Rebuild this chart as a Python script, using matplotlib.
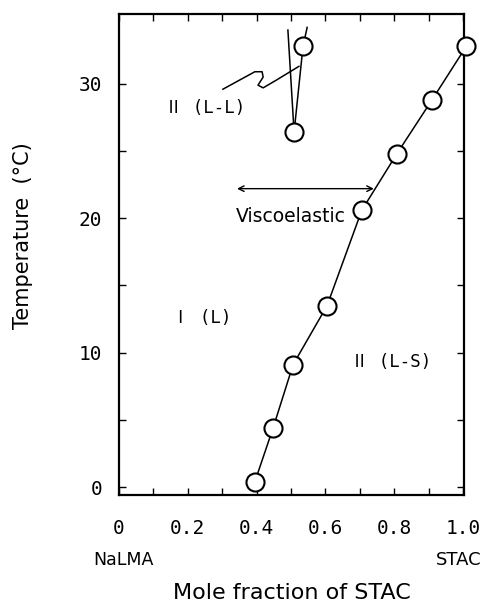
import matplotlib
matplotlib.use('Agg')
import matplotlib.pyplot as plt
import numpy as np

# phase boundary (L / L-S)
stac_x = [0.395, 0.448, 0.506, 0.605, 0.706, 0.808, 0.910, 1.010]
stac_T = [0.4, 4.4, 9.1, 13.5, 20.6, 24.8, 28.8, 32.8]

# L-L region points and its two boundaries
ll_x = [0.509, 0.535]
ll_T = [26.4, 32.8]
ll_left_x = [0.491, 0.509]
ll_left_T = [34.0, 26.4]
ll_right_x = [0.547, 0.535, 0.509]
ll_right_T = [34.2, 32.8, 26.4]

# hand-drawn pointer from the L-L label
squig_x = [0.302, 0.352, 0.395, 0.416, 0.419, 0.404, 0.419, 0.459, 0.523]
squig_T = [29.6, 30.3, 30.9, 30.9, 30.5, 29.9, 29.7, 30.3, 31.3]

visco_x = [0.343, 0.741]
visco_T = 22.2

xticks = [0, 0.2, 0.4, 0.6, 0.8, 1.0]
xticklabels = ['0', '0.2', '0.4', '0.6', '0.8', '1.0']
yticks = [0, 10, 20, 30]

mono = ['DejaVu Sans Mono', 'Noto Sans CJK JP']

fig = plt.figure(figsize=(4.92, 6.06), dpi=100)
ax = fig.add_axes([0.242, 0.183, 0.701, 0.794])

ax.plot(stac_x, stac_T, '-', color='black', lw=1.1, zorder=2)
ax.plot(ll_left_x, ll_left_T, '-', color='black', lw=1.1, zorder=2)
ax.plot(ll_right_x, ll_right_T, '-', color='black', lw=1.1, zorder=2)
ax.plot(squig_x, squig_T, '-', color='black', lw=1.1, zorder=2)
ax.plot(stac_x, stac_T, 'o', ms=13, mfc='white', mec='black', mew=1.5,
        zorder=3, clip_on=False)
ax.plot(ll_x, ll_T, 'o', ms=13, mfc='white', mec='black', mew=1.5,
        zorder=3, clip_on=False)

ax.annotate('', xy=(visco_x[0], visco_T), xytext=(visco_x[1], visco_T),
            arrowprops=dict(arrowstyle='<->', color='black', lw=1.0,
                            shrinkA=0, shrinkB=0))
ax.text(0.5, 20.1, 'Viscoelastic', ha='center', va='center', fontsize=13.5)
ax.text(0.24, 12.6, 'Ⅰ (L)', ha='center', va='center', fontsize=12.5, family=mono)
ax.text(0.79, 9.3, 'Ⅱ (L-S)', ha='center', va='center', fontsize=12.5, family=mono)
ax.text(0.25, 28.2, 'Ⅱ (L-L)', ha='center', va='center', fontsize=12.5, family=mono)

ax.set_xlim(0, 1.003)
ax.set_ylim(-0.6, 35.2)
ax.set_xticks(xticks)
ax.set_xticklabels(xticklabels, family=mono, fontsize=14)
ax.set_xticks(np.arange(0.1, 1.0, 0.1), minor=True)
ax.set_yticks(yticks)
ax.set_yticklabels([str(t) for t in yticks], family=mono, fontsize=14)
ax.set_yticks([5, 15, 25], minor=True)
ax.tick_params(which='both', direction='in', top=True, right=True,
               length=5, width=1)
ax.tick_params(axis='x', which='major', pad=17)
ax.tick_params(axis='y', which='major', pad=12)
for s in ax.spines.values():
    s.set_linewidth(1.6)

ax.set_ylabel('Temperature  (°C)', fontsize=15)
ax.yaxis.set_label_coords(-0.25, 0.54)
fig.text(0.25, 0.076, 'NaLMA', ha='center', va='center', fontsize=12.5)
fig.text(0.933, 0.076, 'STAC', ha='center', va='center', fontsize=13)
fig.text(0.594, 0.022, 'Mole fraction of STAC', ha='center', va='center', fontsize=16)

fig.savefig('out.png', dpi=100)
